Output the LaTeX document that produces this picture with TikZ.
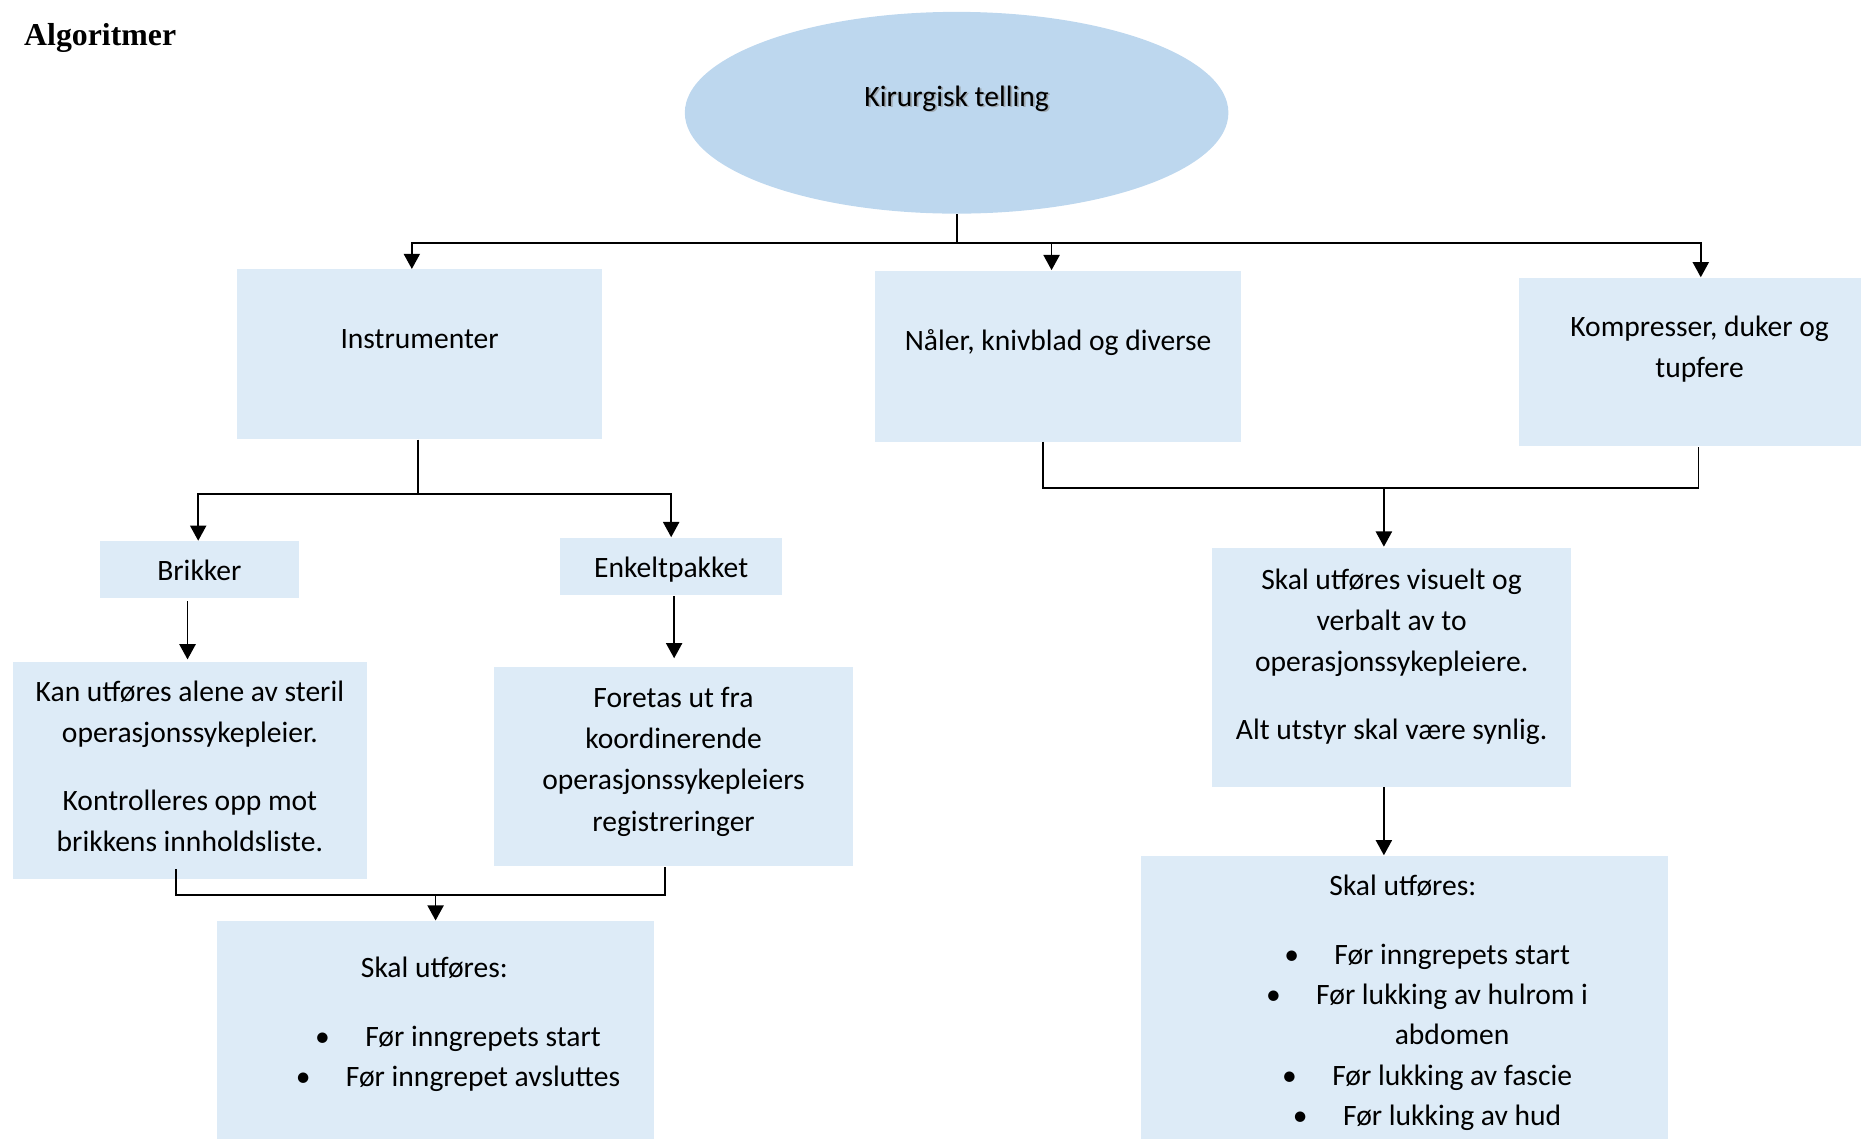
\documentclass[tikz,border=0pt]{standalone}
\usepackage{fontspec}
\setmainfont{Carlito}
\newfontfamily\serifbold{Liberation Serif}
\usetikzlibrary{shapes.geometric,arrows.meta,calc}
\definecolor{ellfill}{RGB}{189,215,238}
\definecolor{boxfill}{RGB}{221,235,247}
\newcommand\bodysize{\fontsize{12.45pt}{17.3pt}\selectfont}
\newcommand\listsize{\fontsize{12.45pt}{17pt}\selectfont}
\newcommand\tstrut{\rule{0pt}{12.25pt}}
\newcommand\blt{\makebox[0pt]{\textbullet}\hspace{18pt}}
\begin{document}
\begin{tikzpicture}[x=0.5pt,y=-0.5pt,
  box/.style={fill=boxfill, draw=none, inner sep=0pt},
  txt/.style={inner sep=0pt, align=center, anchor=north, font=\bodysize},
  lst/.style={txt, font=\listsize},
  ln/.style={draw=black, line width=0.75pt},
  arr/.style={ln, -{Triangle[length=6.4pt,width=6.8pt]}}]
\useasboundingbox (0,0) rectangle (1568,959);
\clip (0,0) rectangle (1568,959);

% heading
\node[anchor=base west, inner sep=0pt, font=\serifbold\bfseries\fontsize{13.4pt}{16pt}\selectfont] (title) at (20,38) {Algoritmer};

% root ellipse
\node[ellipse, fill=ellfill, inner sep=0pt, minimum width=229pt, minimum height=85pt] (ell) at (806,95) {};
\node[txt, text=black!45, opacity=0.6] (kirtshadow) at (807.5,66) {\tstrut Kirurgisk telling};
\node[txt] (kirt) at (806,64.5) {\tstrut Kirurgisk telling};

% boxes
\node[box, minimum width=153.5pt, minimum height=71.5pt] (instr) at (353.5,298.5) {};
\node[box, minimum width=154.5pt, minimum height=72pt] (naler) at (891.5,300) {};
\node[box, minimum width=152pt, minimum height=71pt] (komp) at (1432,305) {};
\node[box, minimum width=84pt, minimum height=24pt] (brikker) at (168,480) {};
\node[box, minimum width=93.5pt, minimum height=24pt] (enkelt) at (565.5,477) {};
\node[box, minimum width=149pt, minimum height=91.5pt] (kan) at (160,649.5) {};
\node[box, minimum width=151.5pt, minimum height=84pt] (foretas) at (567.5,646) {};
\node[box, minimum width=184pt, minimum height=112pt] (skal1) at (367,888) {};
\node[box, minimum width=151.5pt, minimum height=100.5pt] (visuelt) at (1172.5,562.5) {};
\node[box, minimum width=222pt, minimum height=139.5pt] (skal2) at (1183,860.5) {};

% box texts
\node[txt] (instrt) at (353.5,268.5) {\tstrut Instrumenter};
\node[txt] (nalert) at (891.5,270.5) {\tstrut Nåler, knivblad og diverse};
\node[txt] (kompt) at (1432,258.5) {\tstrut Kompresser, duker og\\tupfere};
\node[txt] (brikkert) at (168,464.5) {\tstrut Brikker};
\node[txt] (enkeltt) at (565.5,461.5) {\tstrut Enkeltpakket};
\node[txt] (kant) at (160,566.5) {\tstrut Kan utføres alene av steril\\operasjonssykepleier.\\[11.2pt]Kontrolleres opp mot\\brikkens innholdsliste.};
\node[txt] (foretast) at (567.5,571.5) {\tstrut Foretas ut fra\\koordinerende\\operasjonssykepleiers\\registreringer};
\node[txt] (skal1h) at (366,798.5) {\tstrut Skal utføres:};
\node[lst] (skal1l) at (389,856.5) {\tstrut\blt Før inngrepets start\\\blt Før inngrepet avsluttes};
\node[txt] (visuelttxt) at (1172.5,471.5) {\tstrut Skal utføres visuelt og\\verbalt av to\\operasjonssykepleiere.\\[11.5pt]Alt utstyr skal være synlig.};
\node[txt] (skal2h) at (1182,729.5) {\tstrut Skal utføres:};
\node[lst] (skal2l) at (1205.5,787.5) {\tstrut\blt Før inngrepets start\\\blt Før lukking av hulrom i\\\hspace*{18pt}abdomen\\\blt Før lukking av fascie\\\blt Før lukking av hud};

% junction points
\coordinate (j0) at (806,205);
\coordinate (j1) at (352,416);
\coordinate (j2) at (367,754);
\coordinate (j3) at (1166,411);

% connectors
\draw[ln] (ell.south) -- (j0);
\draw[arr] (j0) -| ($(instr.north)+(-6.5,0)$);
\draw[arr] (j0) -| ($(naler.north)+(-5.5,0)$);
\draw[arr] (j0) -| ($(komp.north)+(1,0)$);

\draw[ln] ($(instr.south)+(-1.5,0)$) -- (j1);
\draw[arr] (j1) -| ($(brikker.north)+(-1,0)$);
\draw[arr] (j1) -| (enkelt.north);

\draw[arr] ($(brikker.south)+(-10,2)$) -- ($(kan.north)+(-2,-2)$);
\draw[arr] ($(enkelt.south)+(2.5,1)$) -- ($(foretas.north)+(0.5,-7)$);

\draw[ln] ($(kan.south)+(-12,-9)$) |- (j2) -| ($(foretas.south)+(-7.5,0)$);
\draw[arr] (j2) -- (skal1.north);

\draw[ln] ($(naler.south)+(-12.5,0)$) |- (j3) -| ($(komp.south)+(-1,0)$);
\draw[arr] (j3) -- ($(visuelt.north)+(-6.5,-1)$);
\draw[arr] ($(visuelt.south)+(-6.5,0)$) -- ($(skal2.north)+(-17,0)$);
\end{tikzpicture}
\end{document}
